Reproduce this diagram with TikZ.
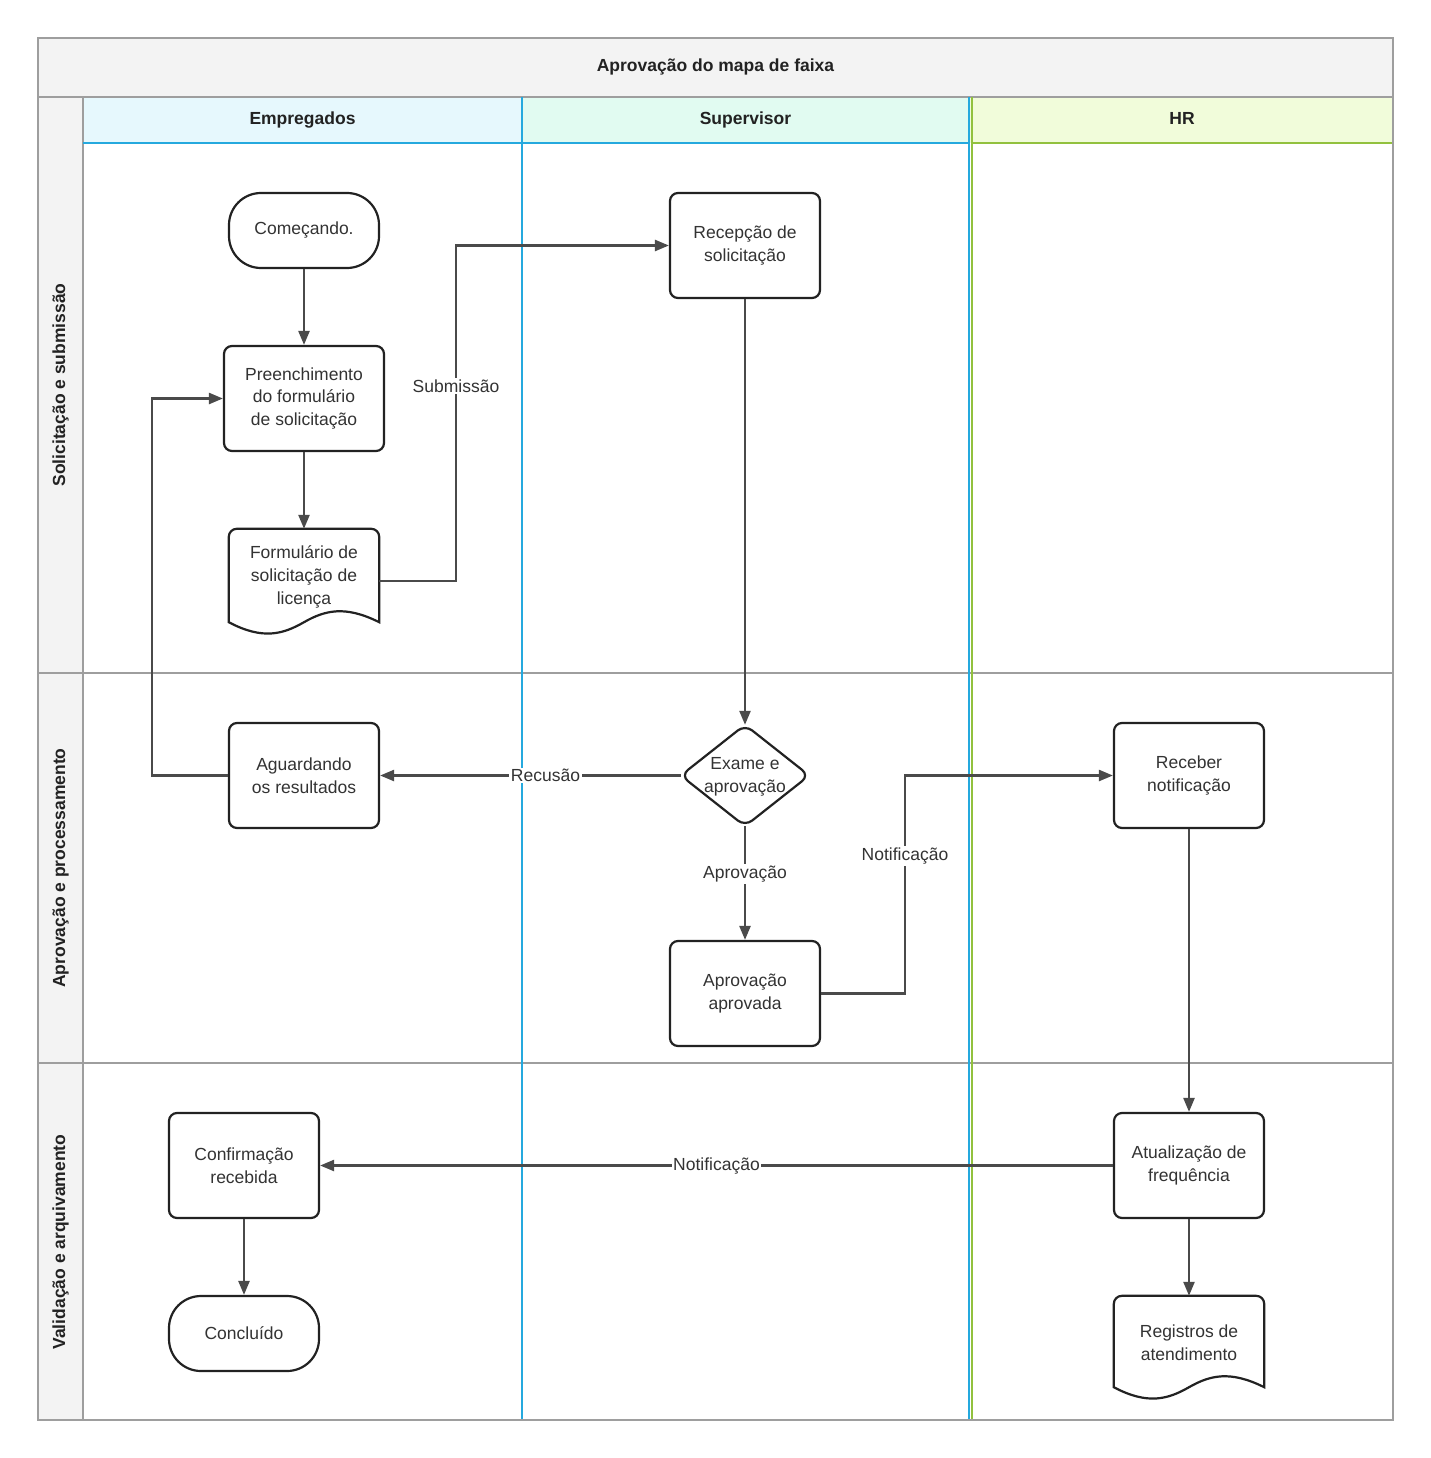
\documentclass[tikz,border=0pt]{standalone}
\usepackage{fontspec}
\setmainfont{Liberation Sans}
\usetikzlibrary{arrows.meta}
\definecolor{gfill}{HTML}{F3F3F3}
\definecolor{gline}{HTML}{9E9E9E}
\definecolor{bline}{HTML}{25A9DE}
\definecolor{grline}{HTML}{92C13E}
\definecolor{hblue}{HTML}{E6F8FD}
\definecolor{hmint}{HTML}{E1FBF1}
\definecolor{hyel}{HTML}{F1FCDA}
\definecolor{nodeb}{HTML}{222222}
\definecolor{edgec}{HTML}{4A4A4A}
\definecolor{txt}{HTML}{333333}
\begin{document}
\begin{tikzpicture}[x=1pt,y=-1pt,
  every node/.style={font=\fontsize{17.5}{22.8}\selectfont, text=txt, align=center},
  proc/.style={draw=nodeb, line width=2.2, fill=white, rounded corners=8, minimum width=150, minimum height=105, inner sep=2},
  term/.style={draw=nodeb, line width=2.2, fill=white, rounded corners=32, minimum width=150, minimum height=75, inner sep=2},
  shapebox/.style={draw=none, inner sep=0},
  nodeline/.style={draw=nodeb, line width=2.2, fill=white},
  flow/.style={draw=edgec, line width=2.4, -{Triangle[length=14,width=11]}},
  lbl/.style={fill=white, inner sep=1.5},
  hdr/.style={font=\fontsize{17.5}{22.5}\selectfont\bfseries, text=nodeb, text height=12.8, text depth=3.8},
  sepline/.style={draw=gline, line width=2.5},
]
\useasboundingbox (0,0) rectangle (1431,1458);
% backgrounds
\fill[white] (38,38) rectangle (1393,1420);
\fill[gfill] (38,38) rectangle (1393,97);
\fill[gfill] (38,97) rectangle (83,1420);
\fill[hblue] (83,97) rectangle (522,143);
\fill[hmint] (522,97) rectangle (969,143);
\fill[hyel] (969,97) rectangle (1393,143);
% gray separators
\draw[sepline] (38,673) -- (1393,673);
\draw[sepline] (38,1063) -- (1393,1063);
\draw[sepline] (38,97) -- (1393,97);
\draw[sepline] (83,97) -- (83,1420);
% lane lines
\draw[bline, line width=2.5] (83,143) -- (969,143);
\draw[grline, line width=2.5] (971,143) -- (1393,143);
\draw[bline, line width=2.5] (522,97) -- (522,1420);
\draw[bline, line width=2] (969,97) -- (969,1420);
\draw[grline, line width=2] (971.5,97) -- (971.5,1420);
% outer frame
\draw[sepline] (38,38) rectangle (1393,1420);
% titles
\node[hdr] (title) at (715.5,67.5) {Aprovação do mapa de faixa};
\node[hdr] (hemp) at (302.5,120.5) {Empregados};
\node[hdr] (hsup) at (745.5,120.5) {Supervisor};
\node[hdr] (hhr) at (1182,120.5) {HR};
\node[hdr, rotate=90] (r1) at (60.5,385) {Solicitação e submissão};
\node[hdr, rotate=90] (r2) at (60.5,868) {Aprovação e processamento};
\node[hdr, rotate=90] (r3) at (60.5,1242) {Validação e arquivamento};

% nodes
\node[term] (com) at (304,230.5) {\raisebox{-1.5pt}{Começando.}};
\node[proc, minimum width=160] (pre) at (304,398.5) {Preenchimento\\do formulário\\de solicitação};
\node[shapebox, minimum width=150, minimum height=93] (form) at (304,575.5) {};
\draw[nodeline] (form.south west) [rounded corners=8] -- (form.north west) -- (form.north east) [sharp corners] -- (form.south east)
  .. controls +(-34,-17) and +(21,-12) .. (form.south)
  .. controls +(-21,12) and +(34,18) .. (form.south west) -- cycle;
\node[yshift=-1.5] (formtxt) at (form) {Formulário de\\solicitação de\\licença};

\node[proc] (rec) at (745,245.5) {Recepção de\\solicitação};
\node[shapebox, minimum width=128, minimum height=101] (exa) at (745,775.5) {};
\draw[nodeline, rounded corners=9] (exa.north) -- (exa.east) -- (exa.south) -- (exa.west) -- cycle;
\node[yshift=-1.5] (exatxt) at (exa) {Exame e\\aprovação};
\node[proc] (agu) at (304,775.5) {Aguardando\\os resultados};
\node[proc] (apr) at (745,993.5) {Aprovação\\aprovada};
\node[proc] (rcv) at (1189,775.5) {Receber\\notificação};
\node[proc] (conf) at (244,1165.5) {Confirmação\\recebida};
\node[term] (conc) at (244,1333.5) {\raisebox{-1.5pt}{Concluído}};
\node[proc] (atu) at (1189,1165.5) {Atualização de\\frequência};
\node[shapebox, minimum width=150, minimum height=91] (reg) at (1189,1341.5) {};
\draw[nodeline] (reg.south west) [rounded corners=8] -- (reg.north west) -- (reg.north east) [sharp corners] -- (reg.south east)
  .. controls +(-34,-17) and +(21,-12) .. (reg.south)
  .. controls +(-21,12) and +(34,18) .. (reg.south west) -- cycle;
\node[yshift=-1.5] (regtxt) at (reg) {Registros de\\atendimento};

% helper coordinates for bends
\coordinate (c1) at (456,400);
\coordinate (c2) at (152,600);
\coordinate (c3) at (905,900);
\coordinate (fout) at (379,581);

% connectors
\draw[flow] (com) -- (pre);
\draw[flow] (pre) -- (form);
\draw[flow] (fout) -- (fout -| c1) -- node[lbl, pos=0.58] {Submissão} (rec.west -| c1) -- (rec.west);
\draw[flow] (rec) -- (exa.north);
\draw[flow] (exa.west) -- node[lbl, pos=0.45] {Recusão} (agu.east);
\draw[flow] (agu.west) -- (agu.west -| c2) -- (pre.west -| c2) -- (pre.west);
\draw[flow] (exa.south) -- node[lbl, pos=0.42] {Aprovação} (apr.north);
\draw[flow] (apr.east) -- (apr.east -| c3) -- node[lbl, pos=0.63] {Notificação} (rcv.west -| c3) -- (rcv.west);
\draw[flow] (rcv) -- (atu);
\draw[flow] (atu.west) -- node[lbl, pos=0.5] {Notificação} (conf.east);
\draw[flow] (conf) -- (conc);
\draw[flow] (atu) -- (reg.north);
\end{tikzpicture}
\end{document}
